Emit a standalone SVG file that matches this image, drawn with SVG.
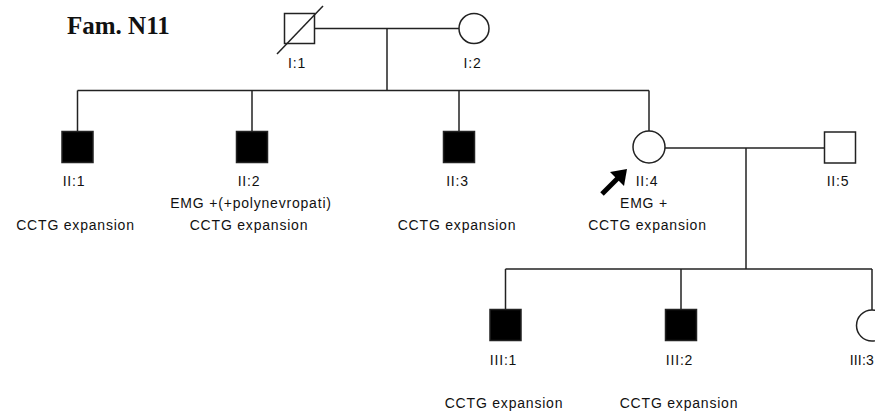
<svg xmlns="http://www.w3.org/2000/svg" width="875" height="415" viewBox="0 0 875 415">
<style>
.ln{stroke:#222;stroke-width:1.5;fill:none}
.open{fill:#fff;stroke:#222;stroke-width:1.5}
.aff{fill:#000;stroke:#222;stroke-width:1.5}
.lbl{font-family:"Liberation Sans",Arial,sans-serif;font-size:14px;letter-spacing:0.8px;fill:#111;text-anchor:middle}
.title{font-family:"Liberation Serif","Times New Roman",serif;font-size:25px;font-weight:bold;fill:#111}
</style>
<rect width="875" height="415" fill="#fff"/>
<text class="title" x="67" y="34">Fam. N11</text>
<g id="connectors">
<line class="ln" x1="314.5" y1="28.5" x2="459" y2="28.5"/>
<line class="ln" x1="387" y1="28.5" x2="387" y2="90.5"/>
<line class="ln" x1="77.5" y1="90.5" x2="649" y2="90.5"/>
<line class="ln" x1="77.5" y1="90.5" x2="77.5" y2="131.5"/>
<line class="ln" x1="252" y1="90.5" x2="252" y2="131.5"/>
<line class="ln" x1="459" y1="90.5" x2="459" y2="131.5"/>
<line class="ln" x1="649" y1="90.5" x2="649" y2="131"/>
<line class="ln" x1="665" y1="148" x2="824.5" y2="148"/>
<line class="ln" x1="746" y1="148" x2="746" y2="269"/>
<line class="ln" x1="505.5" y1="269" x2="872" y2="269"/>
<line class="ln" x1="505.5" y1="269" x2="505.5" y2="309.5"/>
<line class="ln" x1="681" y1="269" x2="681" y2="309.5"/>
<line class="ln" x1="872" y1="269" x2="872" y2="310"/>
</g>
<g id="I1">
<rect class="open" x="284.5" y="13.5" width="30" height="30"/>
<line class="ln" x1="277" y1="54" x2="323" y2="6"/>
<text class="lbl" x="297" y="68">I:1</text>
</g>
<g id="I2">
<circle class="open" cx="474" cy="28.5" r="15"/>
<text class="lbl" x="472.5" y="68">I:2</text>
</g>
<g id="II1">
<rect class="aff" x="62" y="131.5" width="31" height="31"/>
<text class="lbl" x="74" y="186">II:1</text>
<text class="lbl" x="75.5" y="230">CCTG expansion</text>
</g>
<g id="II2">
<rect class="aff" x="236.5" y="131.5" width="31" height="31"/>
<text class="lbl" x="249" y="186">II:2</text>
<text class="lbl" x="251" y="208">EMG +(+polynevropati)</text>
<text class="lbl" x="249" y="230">CCTG expansion</text>
</g>
<g id="II3">
<rect class="aff" x="443.5" y="131.5" width="31" height="31"/>
<text class="lbl" x="457.5" y="186">II:3</text>
<text class="lbl" x="457" y="230">CCTG expansion</text>
</g>
<g id="II4">
<circle class="open" cx="649" cy="147" r="16"/>
<line x1="602" y1="194" x2="618" y2="178" stroke="#000" stroke-width="5"/>
<polygon points="627,169 610,172 624,186" fill="#000"/>
<text class="lbl" x="647" y="186">II:4</text>
<text class="lbl" x="644" y="208">EMG +</text>
<text class="lbl" x="647.5" y="230">CCTG expansion</text>
</g>
<g id="II5">
<rect class="open" x="824.5" y="132" width="31" height="31"/>
<text class="lbl" x="838" y="186">II:5</text>
</g>
<g id="III1">
<rect class="aff" x="490" y="309.5" width="31" height="31"/>
<text class="lbl" x="503.5" y="365">III:1</text>
<text class="lbl" x="504" y="408">CCTG expansion</text>
</g>
<g id="III2">
<rect class="aff" x="665.5" y="309.5" width="31" height="31"/>
<text class="lbl" x="679.5" y="365">III:2</text>
<text class="lbl" x="679" y="408">CCTG expansion</text>
</g>
<g id="III3">
<circle class="open" cx="872" cy="325.5" r="15.5"/>
<text class="lbl" x="874" y="365" style="text-anchor:end;letter-spacing:0.2px">III:3</text>
</g>
</svg>
